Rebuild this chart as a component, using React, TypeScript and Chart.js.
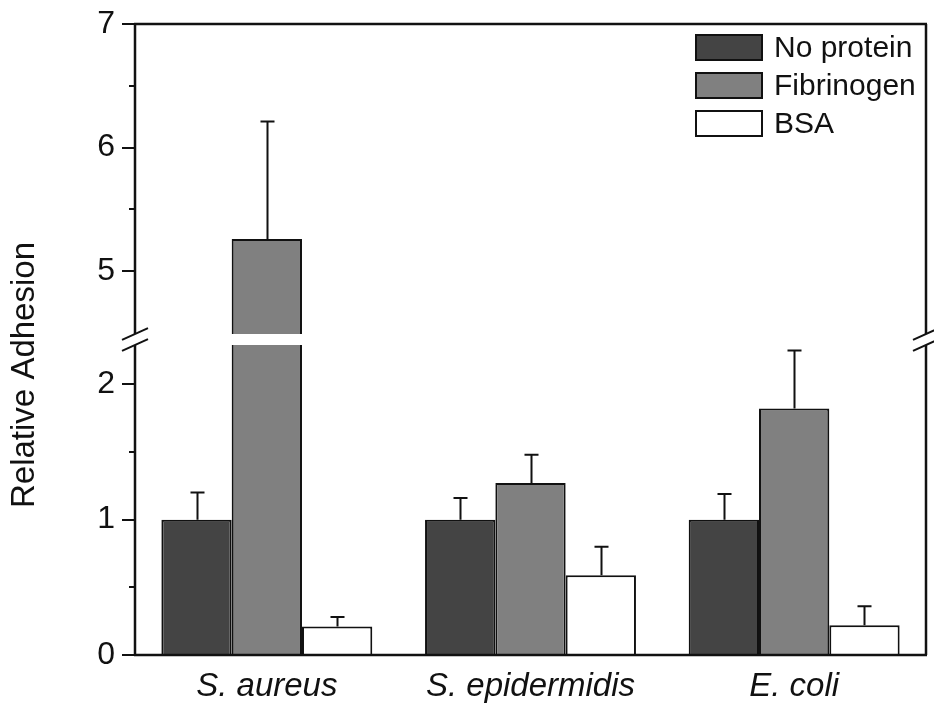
import React, { useEffect, useRef } from 'react';
import { Chart, registerables, LinearScale } from 'chart.js';

// ---- data ----
const categories = ['S. aureus', 'S. epidermidis', 'E. coli'];
const seriesNames = ['No protein', 'Fibrinogen', 'BSA'];
const seriesColors = ['#444444', '#808080', '#ffffff'];
const noProtein = [1.0, 1.0, 1.0];
const noProteinErr = [0.2, 0.16, 0.19];
const fibrinogen = [5.26, 1.27, 1.82];
const fibrinogenErr = [0.95, 0.21, 0.43];
const bsa = [0.21, 0.59, 0.22];
const bsaErr = [0.07, 0.21, 0.14];
const majorTicks = [0, 1, 2, 5, 6, 7];
const minorTicks = [0.5, 1.5, 5.5, 6.5];
const breakLow = 2.29;
const breakHigh = 4.49;
const yMin = 0;
const yMax = 7;

// ---- broken axis geometry (fractions of plot height) ----
const LOWER_FRAC = 310 / 631;
const GAP_FRAC = 11 / 631;
const UPPER_FRAC = 1 - LOWER_FRAC - GAP_FRAC;

function toDecimal(v: number): number {
  if (v <= breakLow) return ((v - yMin) / (breakLow - yMin)) * LOWER_FRAC;
  if (v >= breakHigh) return LOWER_FRAC + GAP_FRAC + ((v - breakHigh) / (yMax - breakHigh)) * UPPER_FRAC;
  return LOWER_FRAC + ((v - breakLow) / (breakHigh - breakLow)) * GAP_FRAC;
}
function fromDecimal(d: number): number {
  if (d <= LOWER_FRAC) return yMin + (d / LOWER_FRAC) * (breakLow - yMin);
  if (d >= LOWER_FRAC + GAP_FRAC) return breakHigh + ((d - LOWER_FRAC - GAP_FRAC) / UPPER_FRAC) * (yMax - breakHigh);
  return breakLow + ((d - LOWER_FRAC) / GAP_FRAC) * (breakHigh - breakLow);
}

class BrokenLinearScale extends LinearScale {
  static id = 'brokenLinear';
  static defaults = LinearScale.defaults;
  buildTicks() {
    return [...majorTicks, ...minorTicks].sort((a, b) => a - b).map((value) => ({ value }));
  }
  getPixelForValue(value: any) {
    if (value === null || value === undefined || isNaN(value)) return NaN;
    return (this as any).getPixelForDecimal(toDecimal(+value));
  }
  getValueForPixel(pixel: number) {
    return fromDecimal((this as any).getDecimalForPixel(pixel));
  }
}

Chart.register(...registerables, BrokenLinearScale as any);

const FONT = "'Liberation Sans', Arial, sans-serif";

const brokenPlugin = {
  id: 'brokenAxisDecor',
  afterDatasetsDraw(chart: any) {
    const ctx = chart.ctx;
    const y = chart.scales.y;
    const { left, right } = chart.chartArea;
    ctx.save();
    // error bars
    chart.data.datasets.forEach((ds: any, di: number) => {
      const meta = chart.getDatasetMeta(di);
      meta.data.forEach((bar: any, i: number) => {
        const v = ds.data[i];
        const e = ds.errors[i];
        const yTop = y.getPixelForValue(v + e);
        const x = Math.round(bar.x) + 0.5;
        ctx.strokeStyle = '#111';
        ctx.lineWidth = 2;
        ctx.beginPath();
        ctx.moveTo(x, bar.y);
        ctx.lineTo(x, yTop);
        ctx.moveTo(x - 7, yTop);
        ctx.lineTo(x + 7, yTop);
        ctx.stroke();
      });
    });
    // white gap at the break
    const gTop = y.getPixelForValue(breakHigh);
    const gBot = y.getPixelForValue(breakLow);
    ctx.fillStyle = '#ffffff';
    ctx.fillRect(left + 1, gTop, right - left - 2, gBot - gTop);
    ctx.restore();
  },
  afterDraw(chart: any) {
    const ctx = chart.ctx;
    const y = chart.scales.y;
    const { left, right, top, bottom } = chart.chartArea;
    const gTop = y.getPixelForValue(breakHigh);
    const gBot = y.getPixelForValue(breakLow);
    ctx.save();
    ctx.strokeStyle = '#111';
    ctx.lineWidth = 2.5;
    ctx.lineCap = 'butt';
    // frame
    ctx.beginPath();
    ctx.moveTo(left - 1, top);
    ctx.lineTo(right + 1, top);
    ctx.moveTo(left - 1, bottom);
    ctx.lineTo(right + 1, bottom);
    ctx.moveTo(left, top);
    ctx.lineTo(left, gTop);
    ctx.moveTo(left, gBot);
    ctx.lineTo(left, bottom);
    ctx.moveTo(right, top);
    ctx.lineTo(right, gTop);
    ctx.moveTo(right, gBot);
    ctx.lineTo(right, bottom);
    ctx.stroke();
    // break slashes
    ctx.lineWidth = 2;
    ctx.beginPath();
    [left, right].forEach((ax) => {
      [gTop, gBot].forEach((gy) => {
        ctx.moveTo(ax - 13, gy + 5.8);
        ctx.lineTo(ax + 13, gy - 5.8);
      });
    });
    ctx.stroke();
    // y tick marks
    ctx.lineWidth = 2;
    ctx.beginPath();
    y.ticks.forEach((t: any) => {
      const py = Math.round(y.getPixelForValue(t.value));
      const len = majorTicks.includes(t.value) ? 13 : 6;
      ctx.moveTo(left - len, py);
      ctx.lineTo(left, py);
    });
    ctx.stroke();
    // y axis title
    ctx.fillStyle = '#111';
    ctx.font = `33px ${FONT}`;
    ctx.translate(34, 375);
    ctx.rotate(-Math.PI / 2);
    ctx.textAlign = 'center';
    ctx.textBaseline = 'alphabetic';
    ctx.fillText('Relative Adhesion', 0, 0);
    ctx.restore();

    // legend
    ctx.save();
    const boxX = 696;
    const boxW = 66;
    const boxH = 25;
    const rowY = [35, 73, 111];
    ctx.font = `30px ${FONT}`;
    ctx.textBaseline = 'middle';
    ctx.textAlign = 'left';
    chart.data.datasets.forEach((ds: any, di: number) => {
      const by = rowY[di];
      ctx.fillStyle = ds.backgroundColor;
      ctx.fillRect(boxX, by, boxW, boxH);
      ctx.strokeStyle = '#111';
      ctx.lineWidth = 2;
      ctx.strokeRect(boxX, by, boxW, boxH);
      ctx.fillStyle = '#111';
      ctx.fillText(ds.label, 774, by + boxH / 2 + 1);
    });
    ctx.restore();
  },
};

export default function App() {
  const canvasRef = useRef<HTMLCanvasElement | null>(null);
  useEffect(() => {
    if (!canvasRef.current) return;
    const errs = [noProteinErr, fibrinogenErr, bsaErr];
    const vals = [noProtein, fibrinogen, bsa];
    const chart = new Chart(canvasRef.current, {
      type: 'bar',
      data: {
        labels: categories,
        datasets: seriesNames.map((name, i) => ({
          label: name,
          data: vals[i],
          errors: errs[i],
          backgroundColor: seriesColors[i],
          borderColor: '#111',
          borderWidth: 2,
          categoryPercentage: 0.8,
          barPercentage: 1.0,
        })) as any,
      },
      options: {
        animation: false,
        responsive: false,
        events: [],
        layout: { padding: { left: 0, right: 8, top: 24, bottom: 0 } },
        plugins: { legend: { display: false }, tooltip: { enabled: false } },
        scales: {
          x: {
            type: 'category',
            grid: { display: false, drawTicks: false },
            border: { display: false },
            ticks: {
              color: '#111',
              padding: 12,
              maxRotation: 0,
              font: { family: FONT, size: 33, style: 'italic' },
            },
            afterFit: (s: any) => { s.height = 51; s.paddingLeft = 0; s.paddingRight = 0; },
          },
          y: {
            type: 'brokenLinear' as any,
            min: yMin,
            max: yMax,
            grid: { display: false, drawTicks: false },
            border: { display: false },
            ticks: {
              color: '#111',
              padding: 20,
              autoSkip: false,
              font: { family: FONT, size: 32 },
              callback: (v: any) => (majorTicks.includes(v) ? String(v) : ''),
            },
            afterFit: (s: any) => { s.width = 135; s.paddingTop = 0; s.paddingBottom = 0; },
          },
        },
      } as any,
      plugins: [brokenPlugin],
    });
    return () => chart.destroy();
  }, []);
  return (
    <div style={{ position: 'fixed', left: 0, top: 0, width: 934, height: 706, background: '#fff' }}>
      <canvas ref={canvasRef} width={934} height={706} style={{ display: 'block' }} />
    </div>
  );
}
